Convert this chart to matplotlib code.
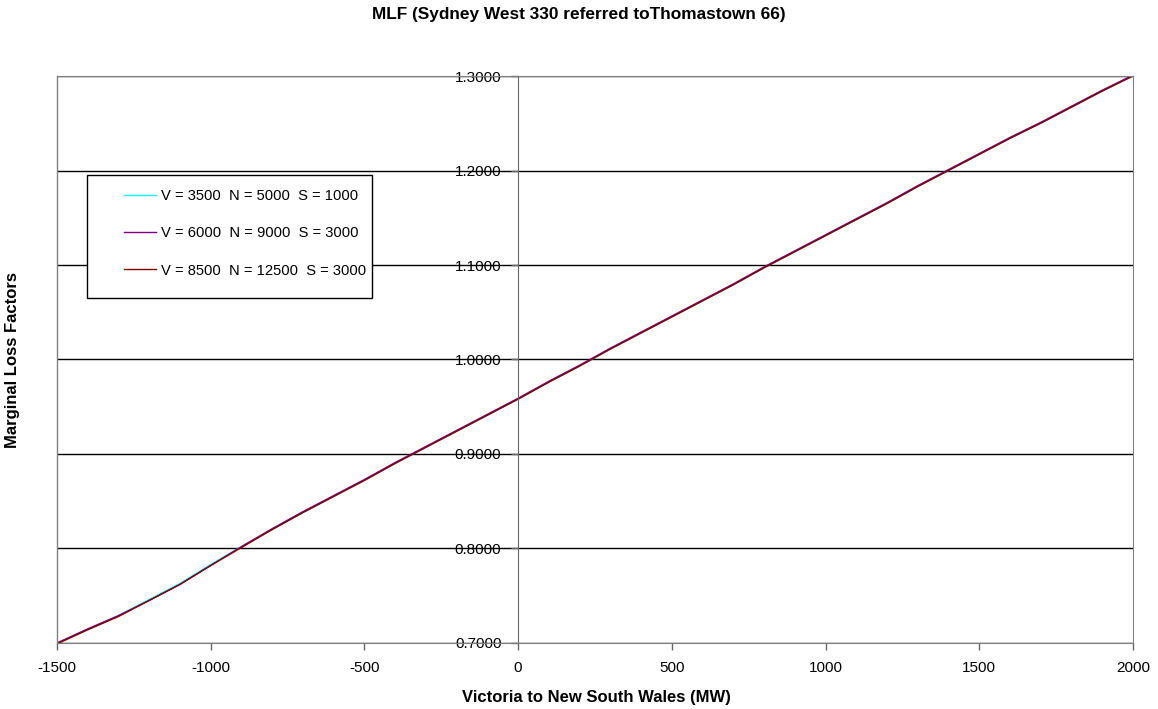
import matplotlib.pyplot as plt
from matplotlib.patches import Rectangle
from matplotlib.ticker import FormatStrFormatter

plt.rcParams['font.family'] = ['Liberation Sans', 'DejaVu Sans']
plt.rcParams['axes.unicode_minus'] = False

flow = [-1500, -1400, -1300, -1200, -1100, -1000, -900, -800, -700, -600, -500,
        -400, -300, -200, -100, 0, 100, 200, 300, 400, 500, 600, 700, 800,
        900, 1000, 1100, 1200, 1300, 1400, 1500, 1600, 1700, 1800, 1900, 2000]

mlf_a = [0.700, 0.714, 0.729, 0.746, 0.763, 0.783, 0.802, 0.820, 0.838, 0.855, 0.872,
         0.890, 0.907, 0.924, 0.941, 0.958, 0.976, 0.993, 1.011, 1.028, 1.045,
         1.062, 1.079, 1.097, 1.114, 1.131, 1.148, 1.165, 1.183, 1.200, 1.217,
         1.234, 1.250, 1.267, 1.284, 1.300]
mlf_b = [0.700, 0.715, 0.729, 0.745, 0.762, 0.782, 0.802, 0.821, 0.839, 0.856, 0.873,
         0.891, 0.908, 0.925, 0.942, 0.959, 0.977, 0.994, 1.012, 1.029, 1.046,
         1.063, 1.080, 1.098, 1.115, 1.132, 1.149, 1.166, 1.184, 1.201, 1.218,
         1.235, 1.251, 1.268, 1.285, 1.301]
mlf_c = [0.699, 0.714, 0.728, 0.745, 0.762, 0.782, 0.801, 0.820, 0.838, 0.855, 0.872,
         0.890, 0.907, 0.924, 0.941, 0.958, 0.976, 0.993, 1.011, 1.028, 1.045,
         1.062, 1.079, 1.097, 1.114, 1.131, 1.148, 1.165, 1.183, 1.200, 1.217,
         1.234, 1.250, 1.267, 1.284, 1.300]

labels = ['V = 3500  N = 5000  S = 1000',
          'V = 6000  N = 9000  S = 3000',
          'V = 8500  N = 12500  S = 3000']
colors = ['#00ffff', '#800080', '#800000']

fig = plt.figure(figsize=(11.58, 7.09), dpi=100)
ax = fig.add_axes([0.0492, 0.0931, 0.9292, 0.7997])

for y, lab, c in zip([mlf_a, mlf_b, mlf_c], labels, colors):
    ax.plot(flow, y, color=c, lw=1.0, label=lab)

ax.set_xlim(-1500, 2000)
ax.set_ylim(0.7, 1.3)
ax.set_xticks(range(-1500, 2001, 500))
ax.set_yticks([0.7, 0.8, 0.9, 1.0, 1.1, 1.2, 1.3])
ax.yaxis.set_major_formatter(FormatStrFormatter('%.4f'))
ax.grid(axis='y', color='black', lw=1.0)
ax.set_axisbelow(True)

ax.spines['left'].set_position(('data', 0))
ax.spines['left'].set_color('#666666')
for s in ['top', 'right', 'bottom']:
    ax.spines[s].set_color('#808080')
ax.axvline(-1500, color='#808080', lw=1.0, clip_on=False)
ax.tick_params(axis='both', labelsize=11, length=5, color='#666666', width=1)
ax.tick_params(axis='y', pad=7)
ax.tick_params(axis='x', pad=8)

fig.text(0.5, 0.980, 'MLF (Sydney West 330 referred toThomastown 66)',
         fontsize=12.4, fontweight='bold', ha='center', va='center')
fig.text(0.515, 0.0169, 'Victoria to New South Wales (MW)', fontsize=12,
         fontweight='bold', ha='center', va='center')
fig.text(0.011, 0.492, 'Marginal Loss Factors', rotation=90, fontsize=12,
         fontweight='bold', ha='center', va='center')

ax.add_patch(Rectangle((0.0279, 0.6085), 0.2649, 0.2169, transform=ax.transAxes,
                       facecolor='white', edgecolor='black', lw=1.0, zorder=4))
leg = ax.legend(loc='upper left', bbox_to_anchor=(0.0623, 0.8005), fontsize=10.6,
                frameon=False, labelspacing=1.58, handlelength=2.18,
                handletextpad=0.34, borderpad=0, borderaxespad=0)
leg.set_zorder(5)

fig.savefig('out.png', dpi=100)
